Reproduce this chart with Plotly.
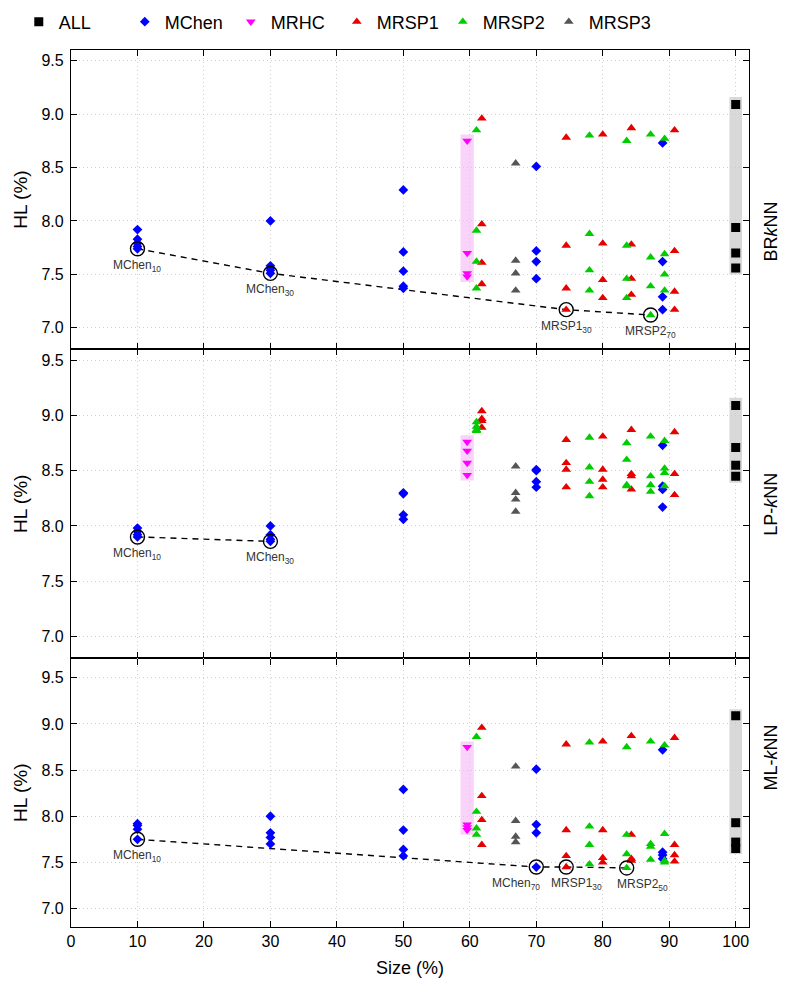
# -*- coding: utf-8 -*-
"""HL (%) vs. Size (%) for BRkNN, LP-kNN and ML-kNN"""
import plotly.graph_objects as go
from plotly.subplots import make_subplots

# ---- data ----
PANELS = ["BR<i>k</i>NN", "LP-<i>k</i>NN", "ML-<i>k</i>NN"]

ALL_X = 100
MCHEN_X = [10, 30, 50, 70, 89]
MRHC_X = 59.6
MRSP1_X = [61.8, 74.5, 80.0, 84.3, 90.8]
MRSP2_X = [61.0, 78.0, 83.6, 87.2, 89.3]
MRSP3_X = 66.9

# BRkNN
BR_ALL = [9.09, 7.94, 7.70, 7.56]
BR_MCHEN = [[7.92, 7.83, 7.79, 7.76, 7.74], [8.00, 7.58, 7.56, 7.54, 7.51],
            [8.29, 7.71, 7.53, 7.39, 7.37], [8.51, 7.72, 7.62, 7.46],
            [8.73, 7.62, 7.29, 7.17]]
BR_MRHC = [8.75, 7.70, 7.51, 7.48]
BR_MRSP1 = [[8.96, 7.97, 7.61, 7.41], [8.78, 7.77, 7.37, 7.17],
            [8.81, 7.79, 7.45, 7.28], [8.87, 7.78, 7.46, 7.31],
            [8.85, 7.72, 7.34, 7.17]]
BR_MRSP2 = [[8.85, 7.91, 7.62, 7.37], [8.80, 7.88, 7.54, 7.35],
            [8.75, 7.77, 7.46, 7.28], [8.81, 7.66, 7.39, 7.12],
            [8.77, 7.69, 7.50, 7.35]]
BR_MRSP3 = [8.54, 7.63, 7.51, 7.35]
BR_BEST_X = [10, 30, 74.5, 87.2]
BR_BEST_Y = [7.74, 7.51, 7.17, 7.12]
BR_BEST_LBL = ["MChen<sub>10</sub>", "MChen<sub>30</sub>",
               "MRSP1<sub>30</sub>", "MRSP2<sub>70</sub>"]

# LP-kNN
LP_ALL = [9.09, 8.71, 8.55, 8.45]
LP_MCHEN = [[7.98, 7.95, 7.92, 7.90], [8.00, 7.92, 7.88, 7.86],
            [8.30, 8.29, 8.10, 8.06], [8.51, 8.50, 8.40, 8.35],
            [8.73, 8.36, 8.33, 8.17]]
LP_MRHC = [8.76, 8.68, 8.57, 8.46]
LP_MRSP1 = [[9.04, 8.97, 8.95, 8.89], [8.78, 8.57, 8.51, 8.35],
            [8.81, 8.51, 8.42, 8.35], [8.87, 8.47, 8.45, 8.33],
            [8.85, 8.47, 8.28]]
LP_MRSP2 = [[8.94, 8.90, 8.87, 8.86], [8.80, 8.53, 8.40, 8.27],
            [8.75, 8.60, 8.37, 8.36], [8.81, 8.45, 8.37, 8.31],
            [8.77, 8.52, 8.48, 8.36]]
LP_MRSP3 = [8.54, 8.30, 8.24, 8.13]
LP_BEST_X = [10, 30]
LP_BEST_Y = [7.90, 7.86]
LP_BEST_LBL = ["MChen<sub>10</sub>", "MChen<sub>30</sub>"]

# ML-kNN
ML_ALL = [9.09, 7.93, 7.72, 7.65]
ML_MCHEN = [[7.92, 7.90, 7.86, 7.75], [8.00, 7.82, 7.77, 7.70],
            [8.29, 7.85, 7.64, 7.57], [8.51, 7.91, 7.82, 7.45],
            [8.72, 7.61, 7.58, 7.54]]
ML_MRHC = [8.75, 7.91, 7.88, 7.85]
ML_MRSP1 = [[8.96, 8.22, 7.96, 7.69], [8.78, 7.85, 7.57, 7.45],
            [8.81, 7.85, 7.55, 7.50], [8.87, 7.80, 7.54, 7.52],
            [8.85, 7.69, 7.58, 7.51]]
ML_MRSP2 = [[8.86, 8.05, 7.87, 7.80], [8.80, 7.89, 7.69, 7.48],
            [8.75, 7.80, 7.59, 7.44], [8.81, 7.70, 7.67, 7.53],
            [8.77, 7.81, 7.52, 7.50]]
ML_MRSP3 = [8.54, 7.95, 7.78, 7.72]
ML_BEST_X = [10, 70, 74.5, 83.6]
ML_BEST_Y = [7.75, 7.45, 7.45, 7.44]
ML_BEST_LBL = ["MChen<sub>10</sub>", "MChen<sub>70</sub>",
               "MRSP1<sub>30</sub>", "MRSP2<sub>50</sub>"]

# ---- styling ----
FONT = "Liberation Sans, Arial, sans-serif"
STYLE = {
    "ALL": dict(symbol="square", color="#000000", size=9),
    "MChen": dict(symbol="diamond", color="#0000ff", size=7.5),
    "MRHC": dict(symbol="triangle-down", color="#ff00ff", size=8.5),
    "MRSP1": dict(symbol="triangle-up", color="#e60000", size=8.5),
    "MRSP2": dict(symbol="triangle-up", color="#00cc00", size=8.5),
    "MRSP3": dict(symbol="triangle-up", color="#555555", size=8.5),
}
LABEL_SHIFT = {(2, "MChen<sub>70</sub>"): -20, (2, "MRSP1<sub>30</sub>"): 10,
               (2, "MRSP2<sub>50</sub>"): 16}
GRID = dict(showgrid=True, gridcolor="#cfcfcf", griddash="1px,3px", gridwidth=1)
AXIS = dict(ticks="inside", ticklen=6, tickcolor="#000000", mirror="ticks",
            showline=True, linecolor="#000000", linewidth=1.2,
            zeroline=False, tickfont=dict(size=16), automargin=False)


def flat(xs, groups):
    """x 위치별 값 목록을 평탄화"""
    fx, fy = [], []
    for x, vals in zip(xs, groups):
        fx += [x] * len(vals)
        fy += list(vals)
    return fx, fy


panel_data = [
    (BR_ALL, BR_MCHEN, BR_MRHC, BR_MRSP1, BR_MRSP2, BR_MRSP3,
     BR_BEST_X, BR_BEST_Y, BR_BEST_LBL),
    (LP_ALL, LP_MCHEN, LP_MRHC, LP_MRSP1, LP_MRSP2, LP_MRSP3,
     LP_BEST_X, LP_BEST_Y, LP_BEST_LBL),
    (ML_ALL, ML_MCHEN, ML_MRHC, ML_MRSP1, ML_MRSP2, ML_MRSP3,
     ML_BEST_X, ML_BEST_Y, ML_BEST_LBL),
]

heights = [299, 309, 268.4]
fig = make_subplots(rows=3, cols=1, shared_xaxes=True, vertical_spacing=0,
                    row_heights=heights)

for i, (a, mc, mh, s1, s2, s3, bx, by, blbl) in enumerate(panel_data):
    row = i + 1
    first = i == 0
    sfx = "" if row == 1 else str(row)
    # 배경 밴드 (ALL, MRHC 범위)
    fig.add_shape(type="rect", xref="x" + sfx, yref="y" + sfx,
                  x0=ALL_X - 0.95, x1=ALL_X + 0.95,
                  y0=min(a) - 0.06, y1=max(a) + 0.07,
                  fillcolor="#d9d9d9", line_width=0, layer="below")
    fig.add_shape(type="rect", xref="x" + sfx, yref="y" + sfx,
                  x0=MRHC_X - 1.0, x1=MRHC_X + 1.0,
                  y0=min(mh) - 0.05, y1=max(mh) + 0.06,
                  fillcolor="#f9d3f9", line_width=0, layer="below")
    # 최적 전선 (파선)
    fig.add_trace(go.Scatter(x=bx, y=by, mode="lines", showlegend=False,
                             line=dict(color="#000000", width=1.4, dash="6px,5px"),
                             hoverinfo="skip"), row=row, col=1)
    series = [
        ("ALL", [ALL_X] * len(a), a),
        ("MChen",) + tuple(flat(MCHEN_X, mc)),
        ("MRHC", [MRHC_X] * len(mh), mh),
        ("MRSP1",) + tuple(flat(MRSP1_X, s1)),
        ("MRSP2",) + tuple(flat(MRSP2_X, s2)),
        ("MRSP3", [MRSP3_X] * len(s3), s3),
    ]
    for name, xs, ys in series:
        st = STYLE[name]
        fig.add_trace(go.Scatter(
            x=xs, y=ys, mode="markers", name=name, legendgroup=name,
            showlegend=first,
            marker=dict(symbol=st["symbol"], color=st["color"], size=st["size"],
                        line=dict(width=0)),
            hovertemplate=f"<b>{name}</b><br>%{{x}}%: %{{y:.2f}}<extra></extra>",
        ), row=row, col=1)
    fig.add_trace(go.Scatter(x=bx, y=by, mode="markers", showlegend=False,
                             marker=dict(symbol="circle-open", color="#000000",
                                         size=14, line=dict(width=1.4)),
                             hoverinfo="skip"), row=row, col=1)
    for x, y, t in zip(bx, by, blbl):
        fig.add_annotation(x=x, y=y, text=t, showarrow=False, row=row, col=1,
                           yanchor="middle", yshift=-17,
                           xshift=LABEL_SHIFT.get((i, t), 0),
                           font=dict(size=12, color="#333333", family=FONT))

# 오른쪽 패널 이름
doms = []
top = 1.0
total = sum(heights)
for h in heights:
    doms.append((top - h / total, top))
    top -= h / total
for name, (d0, d1) in zip(PANELS, doms):
    fig.add_annotation(xref="paper", yref="paper", x=1.05, y=(d0 + d1) / 2,
                       text=name, showarrow=False, textangle=-90,
                       font=dict(size=18, color="#000000", family=FONT))

# 페이지 기본 여백(8px)을 감안한 크기
fig.update_layout(
    width=781, height=989,
    paper_bgcolor="white", plot_bgcolor="white",
    font=dict(family=FONT, color="#000000", size=16),
    margin=dict(l=63, r=40, t=42, b=70, autoexpand=False),
    legend=dict(orientation="h", x=-0.077, y=1.032, yanchor="middle",
                xanchor="left", entrywidth=61, itemwidth=30,
                font=dict(size=18, family=FONT), bgcolor="rgba(0,0,0,0)"),
)
fig.update_xaxes(range=[0, 102], tickmode="array", tickvals=list(range(0, 101, 10)),
                 **GRID, **AXIS)
fig.update_xaxes(title=dict(text="Size (%)", font=dict(size=18), standoff=12),
                 row=3, col=1)
for row, yr in zip([1, 2, 3], [[6.8, 9.6], [6.8, 9.6], [6.8, 9.71]]):
    fig.update_yaxes(range=yr, row=row, col=1)
fig.update_yaxes(tickmode="array", tickvals=[7.0, 7.5, 8.0, 8.5, 9.0, 9.5],
                 tickformat=".1f", ticklabelstandoff=3, **GRID, **AXIS,
                 title=dict(text="HL (%)", font=dict(size=19), standoff=8))

fig.write_html("out.html")
